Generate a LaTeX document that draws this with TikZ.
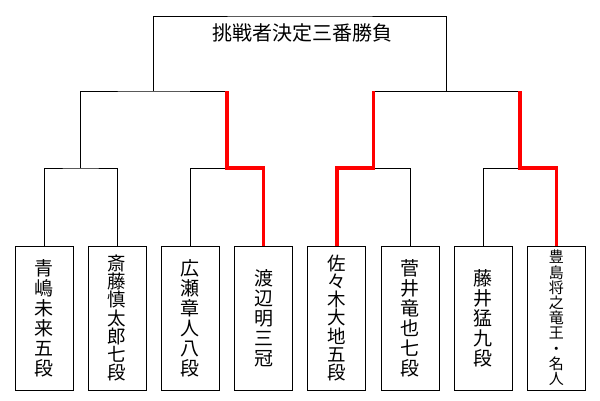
\documentclass[tikz,border=0pt]{standalone}
\usepackage{fontspec}
\setmainfont{Noto Sans CJK JP}
\usepackage{xcolor}

\tikzset{
  player/.style={draw, line width=1pt, minimum width=58pt, minimum height=144pt,
    inner sep=0pt, align=center, font=\fontsize{19}{20}\selectfont},
  win/.style={red, line width=3.5pt},
}

\begin{document}
\begin{tikzpicture}[x=1pt,y=-1pt,line width=1pt]
    \useasboundingbox (0,0) rectangle (600,400);
    % Players
    \node[player] (p1) at (44,318) {青\\嶋\\未\\来\\五\\段};
    \node[player,font=\fontsize{18.5}{18.3}\selectfont] (p2) at (117.2,318) {斎\\藤\\慎\\太\\郎\\七\\段};
    \node[player] (p3) at (190.4,318) {広\\瀬\\章\\人\\八\\段};
    \node[player] (p4) at (263.6,318) {渡\\辺\\明\\三\\冠};
    \node[player,font=\fontsize{18.5}{18.2}\selectfont] (p5) at (336.8,318) {佐\\々\\木\\大\\地\\五\\段};
    \node[player] (p6) at (410,318) {菅\\井\\竜\\也\\七\\段};
    \node[player] (p7) at (483.2,318) {藤\\井\\猛\\九\\段};
    \node[player,font=\fontsize{15}{15.2}\selectfont] (p8) at (556.4,318) {豊\\島\\将\\之\\竜\\王\\・\\名\\人};
    \node[font=\fontsize{20}{20}\selectfont] (title) at (302,33) {挑戦者決定三番勝負};

    \coordinate (j1) at (80.6,168);
    \coordinate (j2) at (227,168);
    \coordinate (j3) at (373.4,168);
    \coordinate (j4) at (519.8,168);
    \coordinate (k1) at (153.8,91);
    \coordinate (k2) at (446.6,91);
    \coordinate (top) at (300,16);

    % First round
    \draw (p1.north) |- (j1) -| (p2.north);
    \draw (p3.north) |- (j2);
    \draw (p6.north) |- (j3);
    \draw (p7.north) |- (j4);
    % Second round
    \draw (j1) |- (k1) -- (j2 |- k1);
    \draw (j3 |- k2) -- (j4 |- k2);
    % Final
    \draw (k1) |- (top) -| (k2);
    % Winners
    \draw[win] (j2 |- k1) -- (j2) -| (p4.north);
    \draw[win] (j3 |- k2) -- (j3) -| (p5.north);
    \draw[win] (j4 |- k2) -- (j4) -| (p8.north);
\end{tikzpicture}
\end{document}
